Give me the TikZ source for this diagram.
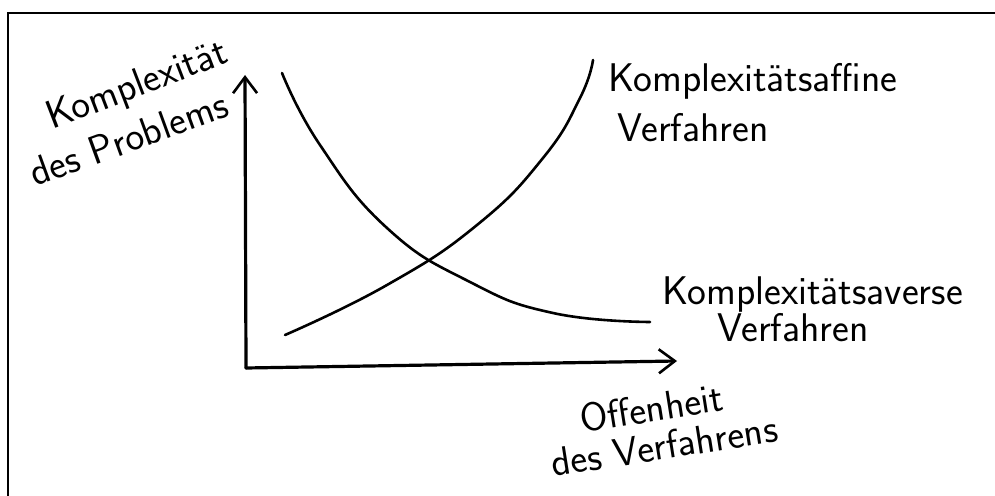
\documentclass[tikz,border=0pt]{standalone}
\usetikzlibrary{arrows.meta}
\begin{document}
\begin{tikzpicture}[x=0.5pt,y=-0.5pt,
  axis/.style={line width=1.6pt, line cap=round, -{Straight Barb[length=8pt,width=12pt,line width=1.3pt]}},
  curve/.style={line width=1.3pt, line cap=round},
  lbl/.style={font=\sffamily\fontsize{20}{22}\selectfont, inner sep=0pt, anchor=base west},
]
\useasboundingbox (0,0) rectangle (995,496);
\draw[line width=1.1pt] (8,496) -- (8,13) -- (995,13);
\coordinate (O) at (246,368);
\coordinate (Ytip) at (245,75);
\coordinate (Xtip) at (677,361);
\draw[axis] (O) -- (Ytip);
\draw[axis] (O) -- (Xtip);
\draw[curve] plot[smooth, tension=0.8] coordinates {(282,73) (320,145) (387,228) (470,282) (553,313) (650,322)};
\draw[curve] plot[smooth, tension=0.8] coordinates {(285,335) (387,285) (477,225) (543,158) (580,98) (593,60)};
\node[lbl, rotate=21] (kp) at (52,130) {Komplexität};
\node[lbl, rotate=20] (dp) at (35,187) {des Problems};
\node[lbl] (ka) at (608,92) {Komplexitätsaffine};
\node[lbl] (va) at (617,142) {Verfahren};
\node[lbl] (kv) at (662,305) {Komplexitätsaverse};
\node[lbl] (vv) at (717,342) {Verfahren};
\node[lbl, rotate=9] (of) at (582,433) {Offenheit};
\node[lbl, rotate=9] (dv) at (553,477) {des Verfahrens};
\end{tikzpicture}
\end{document}
